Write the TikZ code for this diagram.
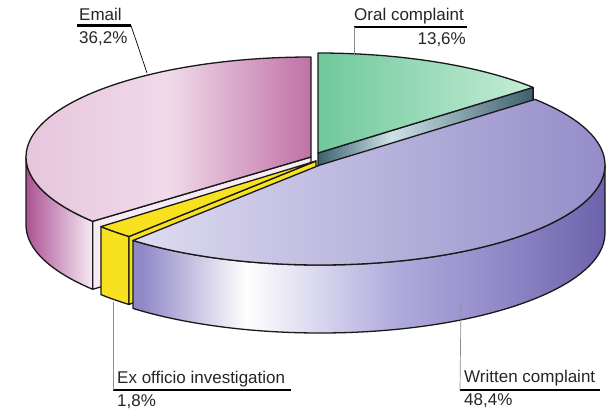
\documentclass[tikz,border=0pt]{standalone}
\usepackage{fontspec}
\setmainfont{Liberation Sans}
\usepackage{tikz}
\usetikzlibrary{calc}
\definecolor{emaillight}  {RGB}{240, 218, 234}
\definecolor{emaildeep}   {RGB}{192, 114, 166}
\definecolor{emailside}   {RGB}{172,  82, 148}
\definecolor{emailpale}   {RGB}{246, 234, 244}
\definecolor{orallight}   {RGB}{198, 237, 215}
\definecolor{oraldeep}    {RGB}{112, 200, 156}
\definecolor{oraledge}    {RGB}{ 62,  96, 110}
\definecolor{oraledgelt}  {RGB}{205, 226, 232}
\definecolor{writtenlight}{RGB}{222, 220, 240}
\definecolor{writtendeep} {RGB}{145, 137, 199}
\definecolor{writtendark} {RGB}{108,  98, 172}
\definecolor{writtenmid}  {RGB}{175, 170, 220}
\definecolor{exofficio}   {RGB}{248, 226,  32}
\pgfdeclarehorizontalshading{writtenside}{100bp}{color(0bp)=(writtendeep); color(26bp)=(writtendeep);
	color(37bp)=(white); color(53bp)=(writtenmid); color(64bp)=(writtendeep); color(75bp)=(writtendark); color(100bp)=(writtendark)}
\pgfdeclarehorizontalshading{oralcut}{100bp}{color(0bp)=(oraledge); color(25bp)=(oraledge);
	color(42bp)=(oraledgelt); color(75bp)=(oraledge); color(100bp)=(oraledge)}
\tikzset{
	slice/.style={draw=black!90, line width=1.3pt, line join=round},
	leader/.style={draw=black!45, line width=0.7pt},
	underline/.style={draw=black, line width=2.6pt},
	lbl/.style={inner sep=0pt, text=black!85, font=\fontsize{17}{20}\selectfont},
}

\begin{document}
\begin{tikzpicture}[x=1pt,y=1pt]
	\useasboundingbox (0,0) rectangle (607,-412);
	% slice centres
	\coordinate (emailc) at (311,-157);
	\coordinate (oralc) at (318,-153);
	\coordinate (exc) at (316,-161);
	\coordinate (writtenc) at (320,-165);

	% email
	\draw[slice,left color=emailside,right color=emailpale] ($(emailc)+(180:285 and 100)$) arc[start angle=180,end angle=220,x radius=285,y radius=100]
		-- ++(0,-68) arc[start angle=220,end angle=180,x radius=285,y radius=100] -- cycle;
	\draw[slice,fill=emailpale] (emailc) -- ++(220:285 and 100) -- ++(0,-68) -- ([yshift=-68pt]emailc) -- cycle;
	\draw[slice,left color=emaillight!80!emaildeep,right color=emaildeep,middle color=emaillight] (emailc) -- ++(90:285 and 100)
		arc[start angle=90,end angle=220,x radius=285,y radius=100] -- cycle;

	% oral complaint
	\draw[slice,shading=oralcut] (oralc) -- ++(41:285 and 100) -- ++(0,-68) -- ([yshift=-68pt]oralc) -- cycle;
	\draw[slice,left color=oraldeep,right color=orallight] (oralc) -- ++(41:285 and 100)
		arc[start angle=41,end angle=90,x radius=285,y radius=100] -- cycle;

	% ex officio
	\draw[slice,fill=exofficio] ($(exc)+(221:285 and 100)$) arc[start angle=221,end angle=229,x radius=285,y radius=100]
		-- ++(0,-68) arc[start angle=229,end angle=221,x radius=285,y radius=100] -- cycle;
	\draw[slice,fill=exofficio] (exc) -- ++(229:285 and 100) -- ++(0,-68) -- ([yshift=-68pt]exc) -- cycle;
	\draw[slice,fill=exofficio] (exc) -- ++(221:285 and 100)
		arc[start angle=221,end angle=229,x radius=285,y radius=100] -- cycle;

	% written complaint
	\draw[slice,shading=writtenside] ($(writtenc)+(229:285 and 100)$) arc[start angle=229,end angle=360,x radius=285,y radius=100]
		-- ++(0,-68) arc[start angle=360,end angle=229,x radius=285,y radius=100] -- cycle;
	\draw[slice,left color=writtenlight,right color=writtendeep] (writtenc) -- ++(229:285 and 100)
		arc[start angle=229,end angle=401,x radius=285,y radius=100] -- cycle;

	% labels
	\node[lbl,anchor=base west] (emailname) at (79,-20.7) {Email};
	\node[lbl,anchor=base west] (emailpct) at (79,-44) {36,2\%};
	\coordinate (emailul) at (77,-25.5);
	\coordinate (emailur) at (131,-25.5);
	\coordinate (emailtip) at (147,-73);
	\draw[underline] (emailul) -- (emailur);
	\draw[line width=0.7pt] (emailur) -- (emailtip);

	\node[lbl,anchor=base west] (oralname) at (354,-20.7) {Oral complaint};
	\node[lbl,anchor=base east] (oralpct) at (466,-45) {13,6\%};
	\coordinate (oralul) at (354,-27);
	\coordinate (oralur) at (467,-27);
	\coordinate (oraltip) at (354,-56);
	\draw[underline] (oralul) -- (oralur);
	\draw[leader] (oralul) -- (oraltip);

	\node[lbl,anchor=base west] (exname) at (117,-383) {Ex officio investigation};
	\node[lbl,anchor=base west] (expct) at (117,-406) {1,8\%};
	\coordinate (exul) at (113,-390);
	\coordinate (exur) at (291,-390);
	\coordinate (extip) at (113,-302);
	\draw[underline] (exul) -- (exur);
	\draw[leader] (exul) -- (extip);

	\node[lbl,anchor=base west] (writtenname) at (464,-382) {Written complaint};
	\node[lbl,anchor=base west] (writtenpct) at (464,-405) {48,4\%};
	\coordinate (writtenul) at (460,-390);
	\coordinate (writtenur) at (600,-390);
	\coordinate (writtentip) at (461,-303);
	\draw[underline] (writtenul) -- (writtenur);
	\draw[leader] (writtenul) -- (writtentip);
\end{tikzpicture}
\end{document}
